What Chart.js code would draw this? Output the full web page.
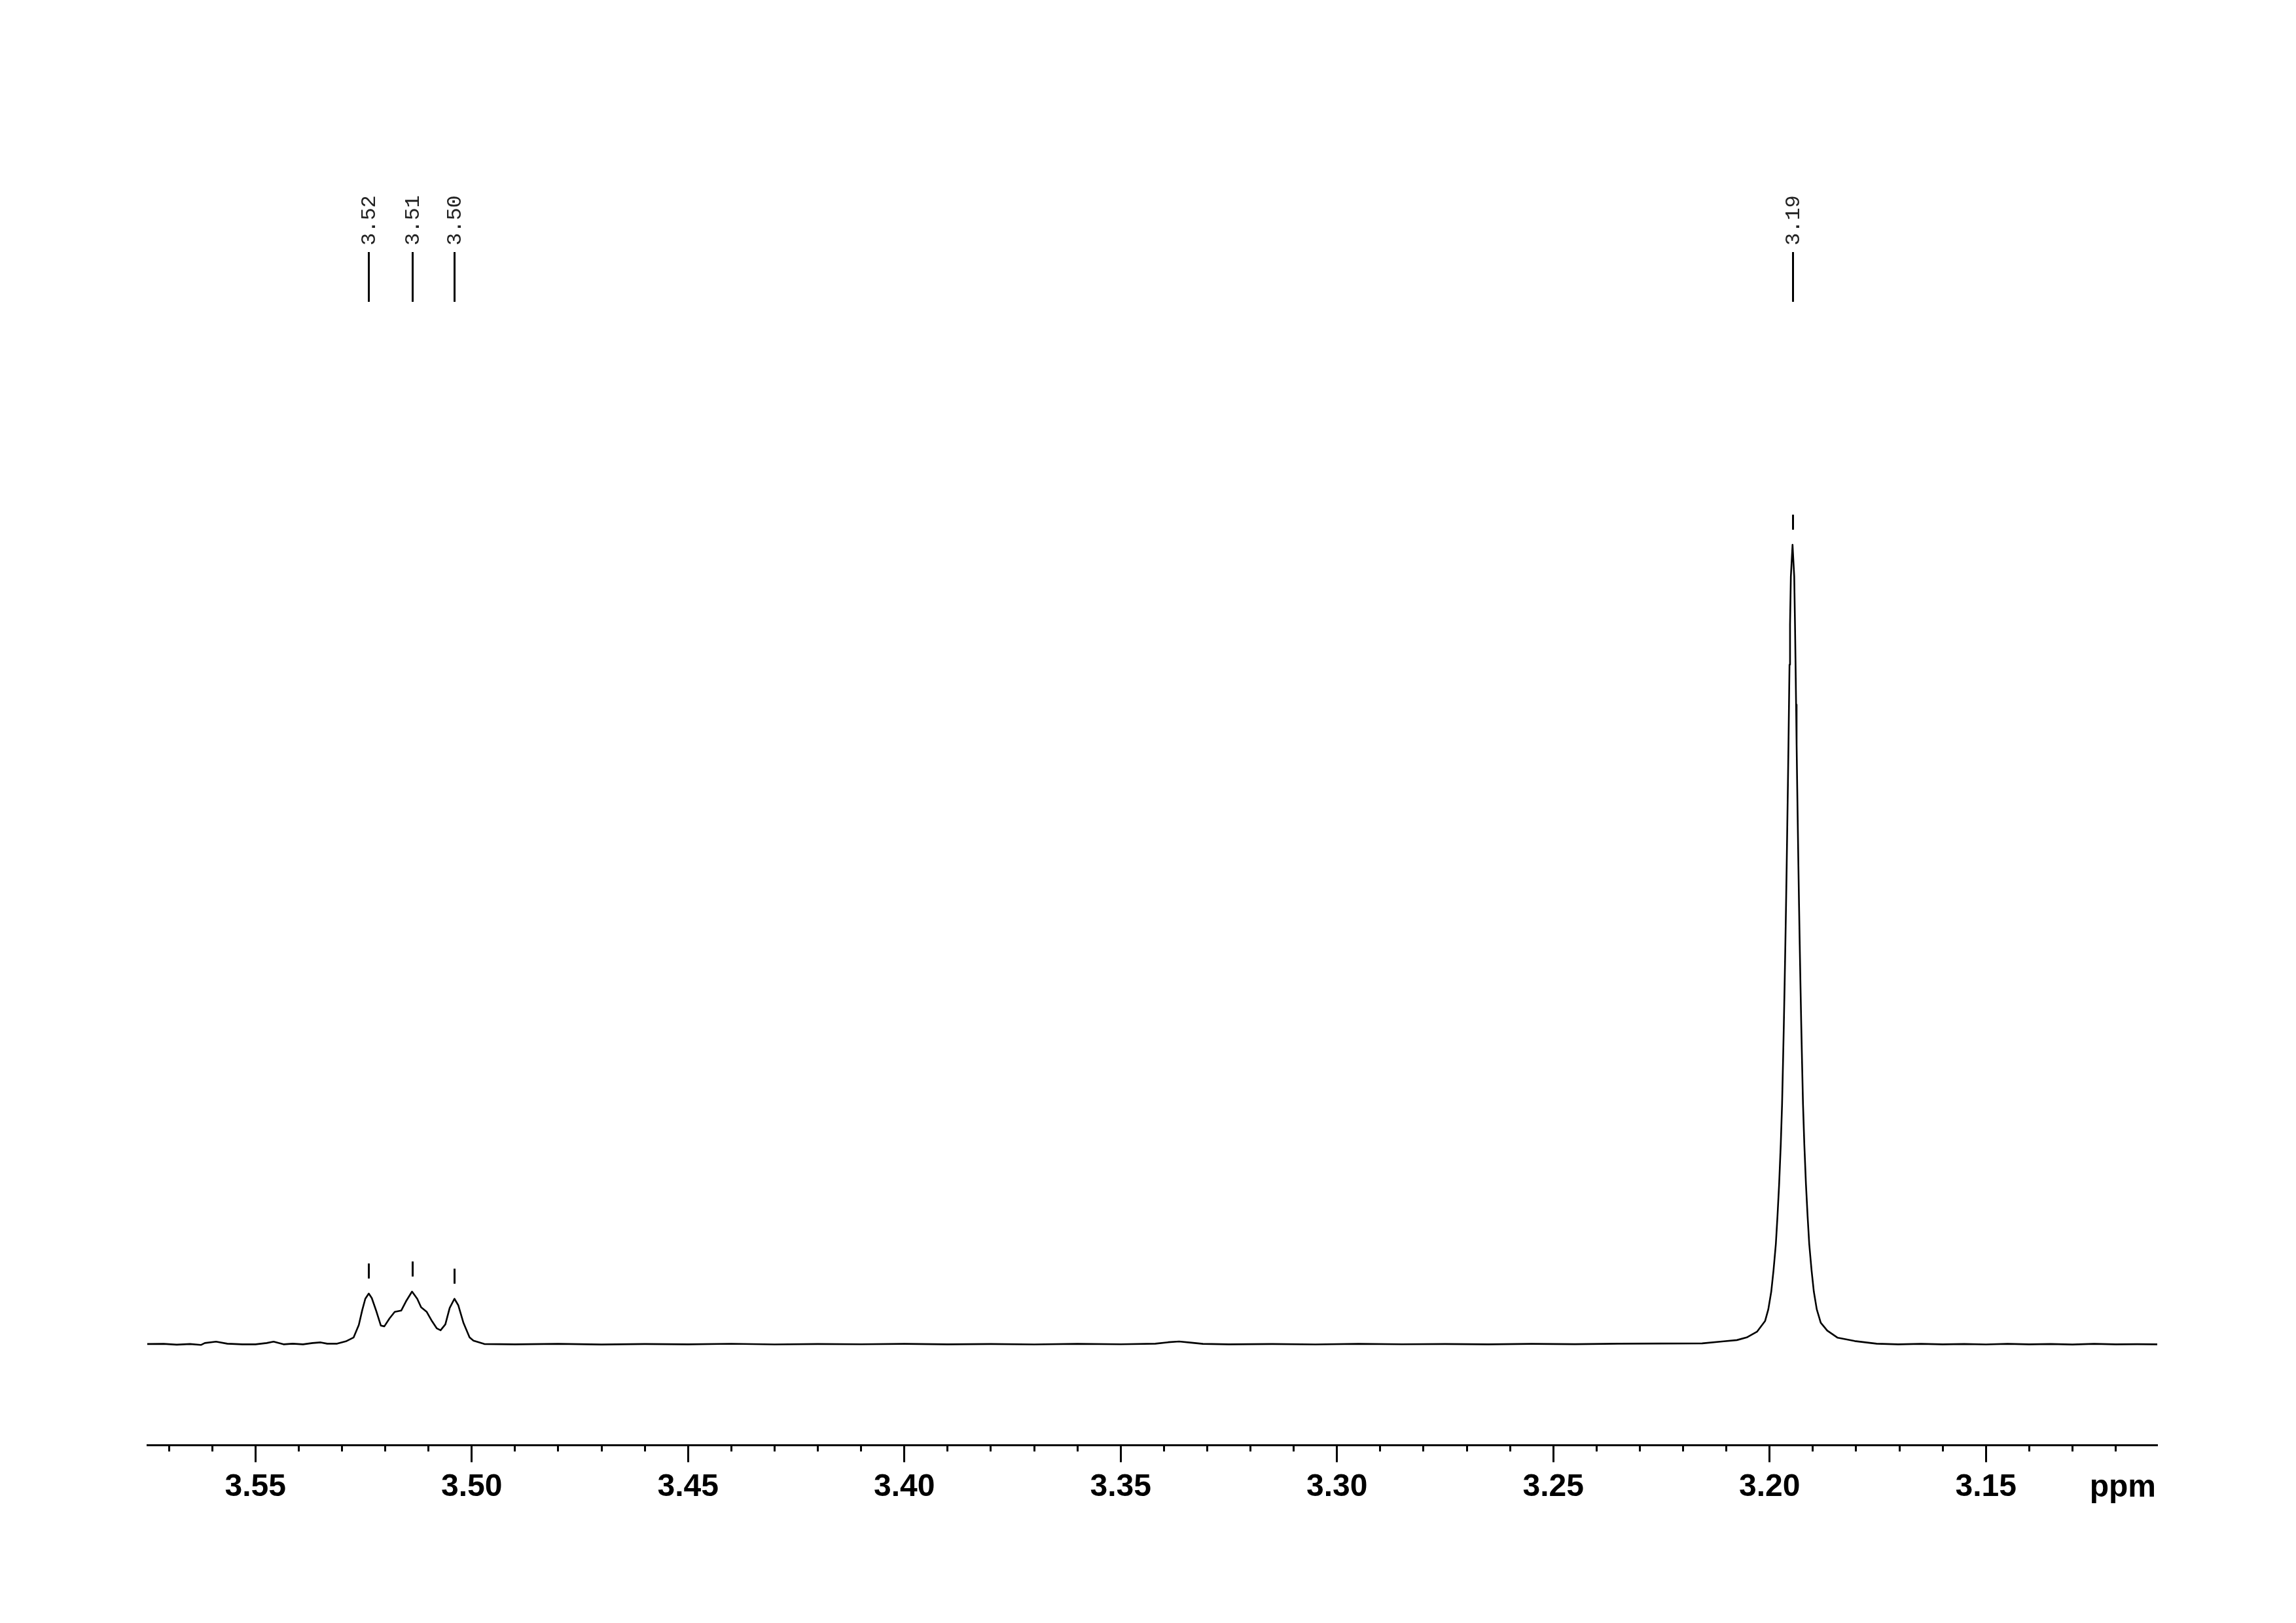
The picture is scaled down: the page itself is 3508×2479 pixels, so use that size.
<!DOCTYPE html>
<html>
<head>
<meta charset="utf-8">
<title>1H NMR 3.11 - 3.57 ppm</title>
<script src="https://cdn.jsdelivr.net/npm/chart.js@4.4.1/dist/chart.umd.min.js"></script>
<style>
  html, body { margin: 0; padding: 0; background: #fff; }
  canvas { display: block; }
</style>
</head>
<body>
<canvas id="nmrChart" width="3508" height="2479"></canvas>
<script>
// chemical shift (ppm) of each trace point, left to right
const shiftPpm = [
    3.5750, 3.5712, 3.5682, 3.5651, 3.5626, 3.5617, 3.5591, 3.5565, 3.5530, 3.5500,
    3.5474, 3.5458, 3.5435, 3.5414, 3.5390, 3.5368, 3.5349, 3.5334, 3.5311,
    // multiplet around 3.51
    3.5291, 3.5273, 3.5261, 3.5253, 3.5246, 3.5238, 3.5231, 3.5220, 3.5210, 3.5202,
    3.5190, 3.5178, 3.5163, 3.5152, 3.5138, 3.5126, 3.5117, 3.5104, 3.5092, 3.5081,
    3.5072, 3.5061, 3.5051, 3.5040, 3.5031, 3.5019, 3.5005, 3.4996, 3.4971,
    // baseline
    3.4900, 3.4800, 3.4700, 3.4600, 3.4500, 3.4400, 3.4300, 3.4200, 3.4100, 3.4000,
    3.3900, 3.3800, 3.3700, 3.3600, 3.3500, 3.3420, 3.3390, 3.3365, 3.3340, 3.3310,
    3.3250, 3.3150, 3.3050, 3.2950, 3.2850, 3.2750, 3.2650, 3.2550, 3.2450, 3.2350,
    3.2250,
    // singlet at 3.19
    3.21558, 3.21059, 3.20756, 3.20529, 3.20287, 3.20105, 3.20030, 3.19962, 3.19909, 3.19856,
    3.19818, 3.19780, 3.19742, 3.19712, 3.19691, 3.19671, 3.19653, 3.19636, 3.19620, 3.19605,
    3.19591, 3.19577, 3.19564, 3.19552, 3.19540, 3.19528, 3.19509, 3.19470,
    3.19431, 3.19413, 3.19400, 3.19388, 3.19376, 3.19363, 3.19349, 3.19335, 3.19320, 3.19304,
    3.19287, 3.19269, 3.19249, 3.19228, 3.19198, 3.19160, 3.19122, 3.19084, 3.19031, 3.18978,
    3.18910, 3.18818, 3.18668, 3.18426, 3.18033, 3.17526, 3.17027,
    // baseline
    3.1650, 3.1600, 3.1550, 3.1500, 3.1450, 3.1400, 3.1350, 3.1300, 3.1250, 3.1200,
    3.1150, 3.1104
];

// intensity, tallest peak = 100
const intensity = [
    0.00, 0.02, -0.08, 0.00, -0.12, 0.12, 0.29, 0.04, -0.04, -0.04,
    0.12, 0.29, -0.04, 0.04, -0.04, 0.12, 0.20, 0.04, 0.04,
    0.33, 0.82, 2.38, 4.26, 5.66, 6.31, 5.74, 4.02, 2.30, 2.21,
    3.20, 4.02, 4.18, 5.33, 6.56, 5.66, 4.59, 4.02, 2.87, 1.97,
    1.72, 2.46, 4.51, 5.66, 4.84, 2.62, 0.82, 0.41, 0.00,
    -0.04, 0.02, -0.06, 0.00, -0.04, 0.03, -0.05, 0.00, -0.03, 0.02,
    -0.04, 0.00, -0.05, 0.02, -0.03, 0.04, 0.22, 0.32, 0.18, 0.02,
    -0.04, 0.00, -0.05, 0.02, -0.03, 0.00, -0.04, 0.02, -0.02, 0.04,
    0.06,
    0.08, 0.33, 0.49, 0.82, 1.56, 2.87, 4.34, 6.56, 9.26, 12.5,
    16, 20, 25, 30, 35, 40, 45, 50, 55, 60,
    65, 70, 75, 80, 85, 90, 96, 100,
    96, 90, 85, 80, 75, 70, 65, 60, 55, 50,
    45, 40, 35, 30, 25, 20, 16, 12.5, 9.26, 6.56,
    4.34, 2.66, 1.68, 0.78, 0.37, 0.04, -0.04,
    0.02, -0.04, 0.00, -0.05, 0.02, -0.04, 0.00, -0.06, 0.02, -0.04,
    -0.02, -0.04
];

// picked peaks
const peakPpm = [3.5238, 3.5138, 3.5040, 3.1947];
const peakHeight = [6.31, 6.56, 5.66, 100];
const peakLabels = ['3.52', '3.51', '3.50', '3.19'];

const ppmMin = 3.1104;
const ppmMax = 3.5750;

function isMajor(v) {
    return Math.abs(v * 20 - Math.round(v * 20)) < 1e-6;
}

// peak markers, label lines, rotated labels and the "ppm" unit
const peakLabelPlugin = {
    id: 'peakLabels',
    afterDraw(chart) {
        const ctx = chart.ctx;
        const xs = chart.scales.x;
        const ys = chart.scales.y;
        ctx.save();
        ctx.strokeStyle = '#000';
        ctx.fillStyle = '#222';
        ctx.lineWidth = 3;
        ctx.font = '32px "Liberation Mono", "DejaVu Sans Mono", monospace';
        peakPpm.forEach((p, i) => {
            const x = Math.round(xs.getPixelForValue(p)) + 0.5;
            const yTop = ys.getPixelForValue(peakHeight[i]);
            // small tick above the peak
            ctx.beginPath();
            ctx.moveTo(x, yTop - 46);
            ctx.lineTo(x, yTop - 23);
            ctx.stroke();
            // label line
            ctx.beginPath();
            ctx.moveTo(x, 385);
            ctx.lineTo(x, 461);
            ctx.stroke();
            // rotated label
            ctx.save();
            ctx.translate(x + 1, 375);
            ctx.rotate(-Math.PI / 2);
            ctx.textAlign = 'left';
            ctx.textBaseline = 'middle';
            ctx.fillText(peakLabels[i], 0, 0);
            ctx.restore();
        });
        ctx.fillStyle = '#000';
        ctx.font = 'bold 48px "Liberation Sans", Arial, sans-serif';
        ctx.textAlign = 'right';
        ctx.textBaseline = 'middle';
        ctx.fillText('ppm', chart.chartArea.right - 2, xs.top + 65);
        ctx.restore();
    }
};

new Chart(document.getElementById('nmrChart'), {
    type: 'line',
    data: {
        datasets: [{
            data: shiftPpm.map((p, i) => ({ x: p, y: intensity[i] })),
            borderColor: '#000',
            borderWidth: 2.6,
            borderJoinStyle: 'round',
            pointRadius: 0,
            tension: 0,
            fill: false
        }]
    },
    options: {
        responsive: false,
        animation: false,
        devicePixelRatio: 1,
        layout: { padding: { top: 200, left: 225, right: 212, bottom: 168 } },
        plugins: { legend: { display: false }, tooltip: { enabled: false } },
        scales: {
            x: {
                type: 'linear',
                reverse: true,
                min: ppmMin,
                max: ppmMax,
                border: { display: true, color: '#000', width: 3 },
                grid: {
                    drawOnChartArea: false,
                    drawTicks: true,
                    tickLength: 26,
                    tickWidth: 3,
                    tickColor: '#000',
                    tickBorderDash: (c) => (c.tick && isMajor(c.tick.value)) ? [] : [8, 200]
                },
                ticks: {
                    stepSize: 0.01,
                    autoSkip: false,
                    includeBounds: false,
                    maxRotation: 0,
                    minRotation: 0,
                    padding: 10,
                    color: '#000',
                    font: { family: '"Liberation Sans", Arial, sans-serif', weight: 'bold', size: 48 },
                    callback: (v) => isMajor(v) ? v.toFixed(2) : ''
                }
            },
            y: {
                display: false,
                min: -12.66,
                max: 151.78
            }
        }
    },
    plugins: [peakLabelPlugin]
});
</script>
</body>
</html>
